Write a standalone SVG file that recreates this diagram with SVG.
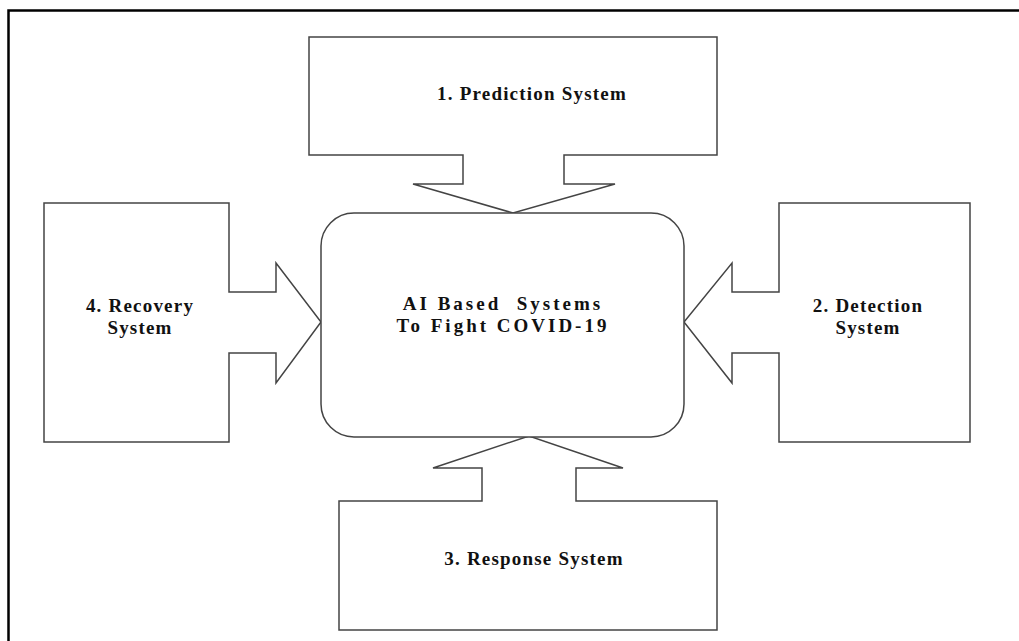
<svg xmlns="http://www.w3.org/2000/svg" width="1019" height="641" viewBox="0 0 1019 641">
<style>
.shape{fill:#fff;stroke:#444;stroke-width:1.5;stroke-linejoin:miter}
.lbl{font-family:"Liberation Serif","Times New Roman",serif;font-weight:bold;font-size:19px;fill:#111;text-anchor:middle;letter-spacing:1.2px}
.ctr{font-family:"Liberation Serif","Times New Roman",serif;font-weight:bold;font-size:19px;fill:#111;text-anchor:middle;letter-spacing:3px;white-space:pre}
</style>
<rect width="1019" height="641" fill="#fff"/>
<path d="M8.5,641 V10.5 H1019" fill="none" stroke="#000" stroke-width="2.5"/>
<g id="connectors"/>
<g id="prediction">
<path class="shape" d="M309,37 H717 V155 H564 V184 H615 L513,213 L413,184 H463 V155 H309 Z"/>
<text class="lbl" x="532" y="100">1. Prediction System</text>
</g>
<g id="detection">
<path class="shape" d="M779,203 H970 V442 H779 V353 H732 V383 L684,322 L732,263 V292 H779 Z"/>
<text class="lbl" x="868" y="312">2. Detection</text>
<text class="lbl" x="868" y="334">System</text>
</g>
<g id="response">
<path class="shape" d="M339,501 H482 V468 H433 L529,436 L623,468 H576 V501 H717 V630 H339 Z"/>
<text class="lbl" x="534" y="565">3. Response System</text>
</g>
<g id="recovery">
<path class="shape" d="M44,203 H229 V292 H276 V263 L321,322 L276,383 V353 H229 V442 H44 Z"/>
<text class="lbl" x="140" y="312">4. Recovery</text>
<text class="lbl" x="140" y="334">System</text>
</g>
<g id="center">
<rect class="shape" x="321" y="213" width="363" height="224" rx="33" ry="33"/>
<text class="ctr" x="503" y="310">AI Based  Systems</text>
<text class="ctr" x="503" y="332">To Fight COVID-19</text>
</g>
</svg>
